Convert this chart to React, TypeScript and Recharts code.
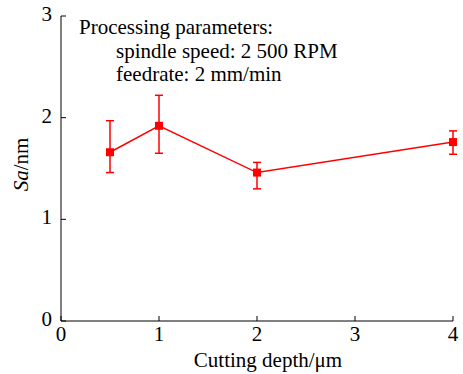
import React from 'react';
import { LineChart, Line, XAxis, YAxis, ErrorBar } from 'recharts';

const depths = [0.5, 1, 2, 4];
const saValues = [1.66, 1.92, 1.46, 1.76];
const errLow = [0.2, 0.27, 0.16, 0.12];
const errHigh = [0.31, 0.3, 0.1, 0.11];
const xTicks = [0, 1, 2, 3, 4];
const yTicks = [0, 1, 2, 3];
const noteLines = ['Processing parameters:', 'spindle speed: 2 500 RPM', 'feedrate: 2 mm/min'];

const RED = '#ff0000';
const FONT = "'Times New Roman', Times, 'Liberation Serif', serif";
const FS = 21;

const data = depths.map((d, i) => ({ depth: d, sa: saValues[i], err: [errLow[i], errHigh[i]] }));

// ticks point inward, like the original figure
const XTick = (props: any) => {
  const { x, y, payload } = props;
  return (
    <g>
      <line x1={x} x2={x} y1={y - 8} y2={y - 13} stroke="#000" strokeWidth={1} />
      <text x={x} y={y + 12} textAnchor="middle" fontSize={FS} style={{ fontFamily: FONT }} fill="#000">
        {payload.value}
      </text>
    </g>
  );
};

const YTick = (props: any) => {
  const { x, y, payload } = props;
  return (
    <g>
      <line x1={x + 8} x2={x + 13} y1={y} y2={y} stroke="#000" strokeWidth={1} />
      <text x={x - 1} y={y + 5} textAnchor="end" fontSize={FS} style={{ fontFamily: FONT }} fill="#000">
        {payload.value}
      </text>
    </g>
  );
};

const Square = (props: any) => {
  const { cx, cy } = props;
  if (cx == null || cy == null) return null;
  return <rect x={cx - 4} y={cy - 4} width={8} height={8} fill={RED} />;
};

export default function App() {
  return (
    <div style={{ position: 'absolute', left: 0, top: 0, width: 463, height: 374, background: '#fff', fontFamily: FONT }}>
      <LineChart width={463} height={374} data={data} margin={{ top: 16, right: 10, bottom: 0, left: 0 }}>
        <XAxis
          dataKey="depth"
          type="number"
          domain={[0, 4]}
          ticks={xTicks}
          tickLine={false}
          tick={<XTick />}
          height={53}
          stroke="#000"
          label={{
            position: 'insideBottom',
            content: (p: any) => {
              const vb = p.viewBox;
              return (
                <text x={268} y={vb.y + vb.height - 7} textAnchor="middle" fontSize={FS} style={{ fontFamily: FONT }} fill="#000">
                  Cutting depth/μm
                </text>
              );
            },
          }}
        />
        <YAxis
          type="number"
          domain={[0, 3]}
          ticks={yTicks}
          tickLine={false}
          tick={<YTick />}
          width={61}
          stroke="#000"
          label={{
            position: 'insideLeft',
            content: (p: any) => {
              const vb = p.viewBox;
              const cx = vb.x + 28;
              const cy = vb.y + vb.height / 2 - 4;
              return (
                <text
                  x={cx}
                  y={cy}
                  transform={`rotate(-90, ${cx}, ${cy})`}
                  textAnchor="middle"
                  fontSize={FS}
                  style={{ fontFamily: FONT }}
                  fill="#000"
                >
                  <tspan fontStyle="italic">Sa</tspan>/nm
                </text>
              );
            },
          }}
        />
        <Line
          dataKey="sa"
          stroke={RED}
          strokeWidth={1.5}
          dot={<Square />}
          activeDot={false}
          isAnimationActive={false}
        >
          <ErrorBar dataKey="err" width={4} stroke={RED} strokeWidth={1.5} direction="y" />
        </Line>
      </LineChart>
      <div
        style={{
          position: 'absolute',
          left: 79,
          top: 16,
          fontFamily: FONT,
          fontSize: FS,
          lineHeight: '23.5px',
          color: '#000',
          whiteSpace: 'nowrap',
        }}
      >
        <div>{noteLines[0]}</div>
        <div style={{ paddingLeft: 37 }}>{noteLines[1]}</div>
        <div style={{ paddingLeft: 37 }}>{noteLines[2]}</div>
      </div>
    </div>
  );
}
